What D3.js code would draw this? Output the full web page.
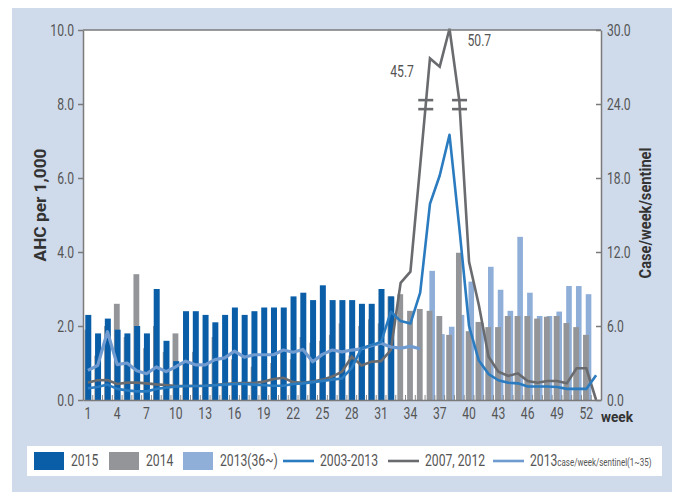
<!DOCTYPE html>
<html>
<head>
<meta charset="utf-8">
<script src="https://cdn.jsdelivr.net/npm/d3@7"></script>
<style>
  html, body { margin: 0; padding: 0; background: #ffffff; }
  svg { display: block; }
  .num { font-family: Roboto, "Liberation Sans", sans-serif; fill: #555; }
  .ttl { font-family: Roboto, "Liberation Sans", sans-serif; font-weight: bold; fill: #333; }
</style>
</head>
<body>
<svg id="chart" width="682" height="492"></svg>
<script>
// ---- data -------------------------------------------------------------
const weeks = d3.range(1, 54);                       // weekly slots 1..53
const tickWeeks = [1, 4, 7, 10, 13, 16, 19, 22, 25, 28, 31, 34, 37, 40, 43, 46, 49, 52];
const leftTicks = [0, 2, 4, 6, 8, 10];
const rightTicks = [0, 6, 12, 18, 24, 30];

// AHC per 1,000 (bars)
const ahc2015 = [2.3, 1.8, 2.2, 1.9, 1.8, 2.0, 1.8, 3.0, 1.6, 1.05, 2.4, 2.4, 2.3, 2.1, 2.3, 2.5,
                 2.3, 2.4, 2.5, 2.5, 2.5, 2.8, 2.9, 2.7, 3.1, 2.7, 2.7, 2.7, 2.6, 2.6, 3.0, 2.8];
const ahc2014 = [1.9, 1.2, 2.0, 2.6, 1.7, 3.4, 1.4, 2.0, 1.3, 1.8, 1.0, 1.3, 0.9, 1.7, 0.4, 1.1,
                 0.5, 0.9, 0.5, 1.0, 1.35, 1.1, 1.7, 1.55, 1.6, 1.76, 2.07, 1.2, 2.0, 2.18, 2.07, 2.8,
                 2.86, 2.41, 2.46, 2.41, 2.27, 1.76, 3.98, 1.86, 2.11, 1.97, 1.97, 2.27, 2.27, 2.27,
                 2.2, 2.25, 2.27, 2.08, 1.97, 1.76];
const weeks2013 = d3.range(36, 53);
const ahc2013 = [3.49, 1.78, 1.98, 2.3, 3.2, 2.08, 3.6, 2.98, 2.41, 4.41, 2.9, 2.27, 2.27, 2.39,
                 3.08, 3.08, 2.86];

// case/week/sentinel (lines)
const cases0313 = [0.95, 1.05, 1.25, 0.9, 0.78, 0.7, 0.7, 0.9, 1.0, 1.1, 1.13, 1.13, 1.15, 1.2,
                   1.25, 1.3, 1.3, 1.25, 1.2, 1.15, 1.15, 1.3, 1.35, 1.45, 1.55, 1.65, 1.75, 2.6,
                   4.2, 4.45, 4.7, 7.16, 6.4, 6.2, 8.7, 15.9, 18.2, 21.5, 14.0, 6.0, 3.2, 2.1, 1.6,
                   1.4, 1.35, 1.1, 1.1, 1.1, 1.05, 0.9, 0.9, 0.9, 2.0];
const cases0712 = [1.41, 1.6, 1.62, 1.3, 1.41, 1.41, 1.35, 1.27, 1.22, 1.13, 1.13, 1.13, 1.16, 1.22,
                   1.3, 1.35, 1.38, 1.38, 1.49, 1.7, 1.8, 1.45, 1.4, 1.5, 1.65, 1.9, 2.3, 3.5, 2.8,
                   3.1, 3.15, 4.05, 9.5, 10.4, 19.0, 45.7, 44.3, 50.7, 28.0, 11.2, 7.7, 3.5, 2.3,
                   1.95, 2.16, 1.54, 1.4, 1.54, 1.54, 1.35, 2.57, 2.57, 0];
const cases2013 = [2.4, 2.8, 5.54, 2.87, 3.0, 2.37, 2.13, 2.68, 2.3, 2.7, 3.15, 2.85, 2.85, 3.27,
                   3.42, 3.96, 3.47, 3.67, 3.67, 3.67, 4.05, 3.87, 4.1, 3.1, 3.7, 4.05, 3.9, 4.05,
                   4.15, 4.4, 4.6, 4.3, 4.2, 4.35, 4.15];
const labelled = [45.7, 50.7];   // peaks printed above the axis break

// ---- layout -----------------------------------------------------------
const svg = d3.select("#chart");
const plot = { left: 83, right: 601, top: 30, bottom: 400 };
const C = {
  panel: "#cfdbeb", d2015: "#0a5ea8", d2014: "#939598", d2013: "#8fafd9",
  l0313: "#2a7bbf", l0712: "#6a6b6e", l2013: "#6f9bd1", axis: "#7a7a7a"
};
const NARROW = 0.76;   // horizontal squeeze giving the condensed lettering

// squeeze a text element horizontally about its own anchor point
function condense(node, k) {
  const t = d3.select(node);
  const xa = +t.attr("x") || 0;
  t.attr("x", xa / k);
  const tr = t.attr("transform") || "";
  t.attr("transform", (tr + ` scale(${k},1)`).trim());
}

svg.append("rect").attr("x", 12).attr("y", 8).attr("width", 660).attr("height", 484).attr("fill", C.panel);
svg.append("rect").attr("x", plot.left).attr("y", plot.top)
   .attr("width", plot.right - plot.left).attr("height", plot.bottom - plot.top).attr("fill", "#fff");

const x = d3.scaleBand().domain(weeks).range([plot.left, plot.right]);
const cx = w => x(w) + x.bandwidth() / 2;
const yL = d3.scaleLinear().domain([0, 10]).range([plot.bottom, plot.top]);
const yR = d3.scaleLinear().domain([0, 30]).range([plot.bottom, plot.top]);
// values above 24 are squeezed into the band between the axis break and the top
const squeeze = d3.scaleLinear().domain([0, 24, 40.5, 50.7]).range([0, 24, 25.2, 30.1]);
const yLine = v => yR(squeeze(v));

// ---- bars -------------------------------------------------------------
const gBars = svg.append("g");
gBars.selectAll(".b13").data(weeks2013.map((w, i) => ({ w, v: ahc2013[i] }))).join("rect")
  .attr("x", d => cx(d.w) - 0.6).attr("width", 5.6)
  .attr("y", d => yL(d.v)).attr("height", d => yL(0) - yL(d.v)).attr("fill", C.d2013);
gBars.selectAll(".b14").data(ahc2014.map((v, i) => ({ w: i + 1, v }))).join("rect")
  .attr("x", d => cx(d.w) - 3.3).attr("width", 5.8)
  .attr("y", d => yL(d.v)).attr("height", d => yL(0) - yL(d.v)).attr("fill", C.d2014);
gBars.selectAll(".b15").data(ahc2015.map((v, i) => ({ w: i + 1, v }))).join("rect")
  .attr("x", d => cx(d.w) - 2.6).attr("width", 6)
  .attr("y", d => yL(d.v)).attr("height", d => yL(0) - yL(d.v)).attr("fill", C.d2015);

// small week dividers rising from the baseline
svg.append("g").selectAll("line").data(weeks.slice(0, -1)).join("line")
  .attr("x1", d => x(d) + x.bandwidth()).attr("x2", d => x(d) + x.bandwidth())
  .attr("y1", plot.bottom).attr("y2", plot.bottom - 5)
  .attr("stroke", "#8c8c8c").attr("stroke-width", 1);

// ---- lines ------------------------------------------------------------
const lineGen = d3.line().x(d => cx(d.w)).y(d => yLine(d.v));
const toPts = arr => arr.map((v, i) => ({ w: i + 1, v }));
svg.append("path").datum(toPts(cases0712)).attr("d", lineGen)
  .attr("fill", "none").attr("stroke", C.l0712).attr("stroke-width", 2.6).attr("stroke-linejoin", "miter");
svg.append("path").datum(toPts(cases2013)).attr("d", lineGen)
  .attr("fill", "none").attr("stroke", C.l2013).attr("stroke-width", 3.2).attr("stroke-linejoin", "round");
svg.append("path").datum(toPts(cases0313)).attr("d", lineGen)
  .attr("fill", "none").attr("stroke", C.l0313).attr("stroke-width", 2.6).attr("stroke-linejoin", "round");

// axis break marks where the 2007, 2012 curve crosses the break level
const breakY = yR(23.95);
const pts0712 = toPts(cases0712).map(d => [cx(d.w), yLine(d.v)]);
const crossings = [];
for (let i = 1; i < pts0712.length; i++) {
  const [x0, y0] = pts0712[i - 1], [x1, y1] = pts0712[i];
  if ((y0 - breakY) * (y1 - breakY) < 0) crossings.push(x0 + (breakY - y0) / (y1 - y0) * (x1 - x0));
}
crossings.forEach(bx => {
  [-4.5, 4.5].forEach(off => {
    svg.append("line").attr("x1", bx - 7.5).attr("x2", bx + 7.5)
      .attr("y1", breakY + off).attr("y2", breakY + off)
      .attr("stroke", C.l0712).attr("stroke-width", 2.6);
  });
});

// peak values
labelled.forEach((v, k) => {
  const i = cases0712.indexOf(v);
  const px = cx(i + 1), py = yLine(v);
  const t = svg.append("text").attr("class", "num").attr("font-size", 16)
    .attr("x", k === 0 ? px - 16 : px + 18).attr("y", k === 0 ? py + 19 : py + 17)
    .attr("text-anchor", k === 0 ? "end" : "start").text(d3.format(".1f")(v));
  condense(t.node(), NARROW);
});

// ---- axes -------------------------------------------------------------
svg.append("line").attr("x1", plot.left).attr("x2", plot.right).attr("y1", plot.top).attr("y2", plot.top)
  .attr("stroke", C.axis).attr("stroke-width", 1.5);

const axL = svg.append("g").attr("transform", `translate(${plot.left},0)`)
  .call(d3.axisLeft(yL).tickValues(leftTicks).tickFormat(d3.format(".1f")).tickSize(5).tickSizeOuter(0).tickPadding(4));
const axR = svg.append("g").attr("transform", `translate(${plot.right},0)`)
  .call(d3.axisRight(yR).tickValues(rightTicks).tickFormat(d3.format(".1f")).tickSize(-5).tickSizeOuter(0).tickPadding(6));
const axB = svg.append("g").attr("transform", `translate(0,${plot.bottom})`)
  .call(d3.axisBottom(x).tickValues(tickWeeks).tickSize(0).tickSizeOuter(0).tickPadding(8));
[axL, axR, axB].forEach(g => {
  g.attr("font-family", null).attr("font-size", null);
  g.select(".domain").attr("stroke", C.axis).attr("stroke-width", 1.5);
  g.selectAll(".tick line").attr("stroke", C.axis).attr("stroke-width", 1.5);
  g.selectAll(".tick text").attr("class", "num").attr("font-size", 16).attr("fill", "#555")
    .each(function () { condense(this, NARROW); });
});

// axis titles, each stretched to its printed length
[
  { text: "AHC per 1,000", tr: "translate(46,205) rotate(-90)", anchor: "middle", len: 113, size: 16 },
  { text: "Case/week/sentinel", tr: "translate(651,213) rotate(-90)", anchor: "middle", len: 131, size: 16 },
  { text: "week", tr: "translate(601,422)", anchor: "start", len: 32, size: 15 }
].forEach(d => {
  const t = svg.append("text").attr("class", "ttl").attr("font-size", d.size)
    .attr("transform", d.tr).attr("text-anchor", d.anchor).text(d.text);
  condense(t.node(), d.len / t.node().getComputedTextLength());
});

// ---- legend -----------------------------------------------------------
const lg = svg.append("g");
lg.append("rect").attr("x", 27).attr("y", 446).attr("width", 635).attr("height", 30).attr("fill", "#fff");
const ly = 461;
const items = [
  { t: "rect", c: C.d2015, x: 34, label: "2015" },
  { t: "rect", c: C.d2014, x: 109, label: "2014" },
  { t: "rect", c: C.d2013, x: 183, label: "2013(36~)" },
  { t: "line", c: C.l0313, x: 283, label: "2003-2013" },
  { t: "line", c: C.l0712, x: 388, label: "2007, 2012" },
  { t: "line", c: C.l2013, x: 493, label: "2013", small: "case/week/sentinel(1~35)" }
];
items.forEach(it => {
  if (it.t === "rect") {
    lg.append("rect").attr("x", it.x).attr("y", ly - 9).attr("width", 30).attr("height", 18).attr("fill", it.c);
  } else {
    lg.append("line").attr("x1", it.x).attr("x2", it.x + 31).attr("y1", ly).attr("y2", ly)
      .attr("stroke", it.c).attr("stroke-width", 2.6);
  }
  const t = lg.append("text").attr("class", "num").attr("font-size", 16).attr("fill", "#444")
    .attr("x", it.x + 37).attr("y", ly + 5.5).text(it.label);
  if (it.small) t.append("tspan").attr("font-size", 10.5).text(it.small);
  condense(t.node(), NARROW);
});
</script>
</body>
</html>
